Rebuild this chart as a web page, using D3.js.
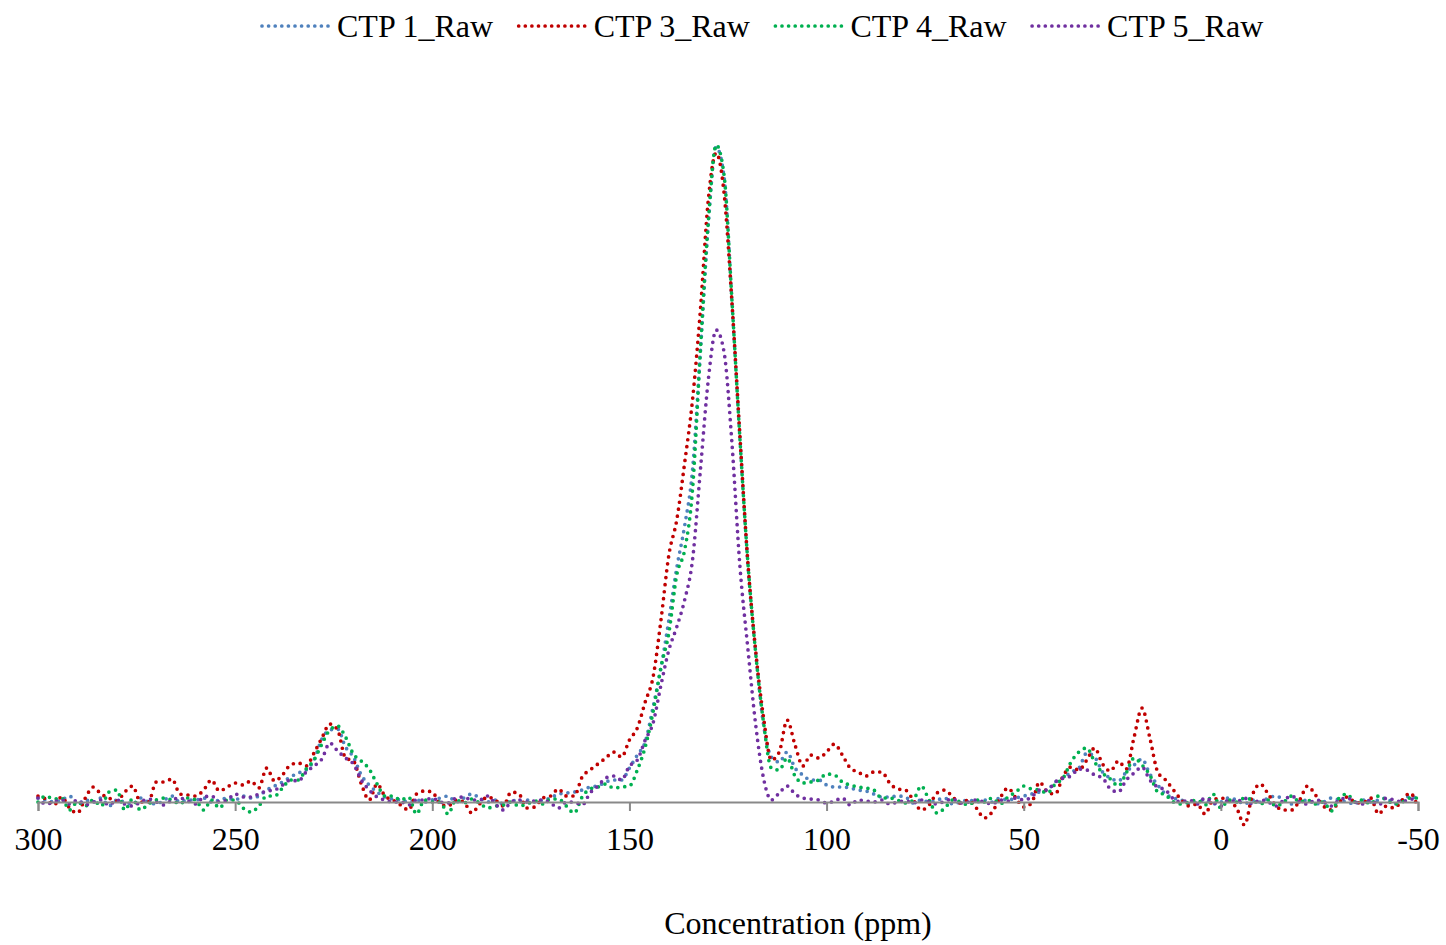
<!DOCTYPE html>
<html>
<head>
<meta charset="utf-8">
<script src="https://cdn.jsdelivr.net/npm/d3@7"></script>
<style>
  html, body { margin: 0; padding: 0; background: #ffffff; }
  svg { display: block; }
  text { font-family: "Liberation Serif", "Times New Roman", serif; fill: #000; }
</style>
</head>
<body>
<svg id="chart" width="1446" height="945"></svg>
<script>
// ---- data (chemical shift grid in ppm, intensities in arbitrary units) ----
const ppm = d3.range(300, -51, -2);

const seriesNames = ["CTP 1_Raw", "CTP 3_Raw", "CTP 4_Raw", "CTP 5_Raw"];
const seriesColors = ["#4F81BD", "#C00000", "#00B050", "#7030A0"];

const ctp1 = [4,2,0,2,6,-2,2,0,4,-4, 2,0,-2,4,0,-2,2,6,0,2, 2,4,0,2,4,2,6,4,6,
  12,16,20,25,29,32,42,63,72,73,55,45,27,17,10,5,3,2,0,2,0,2,4,6,0,4,8,4,0,2,-2,2,0,2,0,2,4,8,9,10,12,
  15,16,20,22,22,34,47,60,95,134,182,234,276,332,450,578,655,625,500,365,240,150,78,45,40,50,34,27,22,22,
  17,15,15,14,12,11,8,5,5,6,5,-1,2,0,2,4,-2,0,2,0,2,0,4,2,4,
  6,8,10,12,20,24,30,34,49,45,30,24,21,30,37,43,28,17,8,4,
  2,-2,0,2,-2,0,4,2,-2,2,0,4,6,2,-2,0,2,-2,0,4,2,0,-2,2,0,2,4,-2,2,6,2];

const ctp3 = [6,3,-3,5,-6,-11,4,15,8,4, 1,10,16,0,0,20,20,23,8,7, 6,12,22,11,15,19,17,21,14,
  34,21,27,37,39,36,49,64,78,72,44,41,18,2,18,6,2,-3,-8,8,11,10,-2,-4,2,0,-11,-2,5,2,-4,10,8,-6,-5,4,6,13,6,6,25,
  32,38,44,50,45,62,74,100,125,182,247,282,339,402,492,602,649,609,500,368,242,152,85,42,50,82,57,36,47,44,
  50,58,47,34,30,26,30,30,19,13,12,2,-8,-3,9,12,5,-1,2,-6,-16,-10,4,14,4,
  -5,-1,20,10,8,26,35,32,42,54,38,31,41,33,65,94,64,30,22,12,
  2,-4,-2,-12,2,4,1,-6,-23,7,18,8,-4,-8,-8,2,16,7,-4,-8,0,5,0,-1,4,-12,-4,-6,2,9,-6];

const ctp4 = [0,6,3,4,-8,0,-4,2,-4,10, 12,-8,3,-8,-2,2,4,2,-2,4, 2,-8,2,-6,2,2,-6,-10,-4,
  6,6,14,22,22,33,42,58,72,76,65,48,41,33,18,6,6,2,5,-12,2,0,0,-12,2,-1,3,-1,-6,-4,-3,0,-4,-2,1,-2,3,3,-4,-11,5,
  13,15,18,14,15,16,32,55,90,135,169,227,252,312,452,580,657,627,502,365,242,150,80,34,32,44,26,19,20,22,
  28,27,20,17,15,14,12,4,4,2,-1,2,16,2,-11,-6,2,0,-3,2,0,4,-2,5,10,
  16,13,12,9,18,24,40,50,54,40,29,23,16,29,44,37,27,10,7,0,
  -2,0,2,-3,8,-6,2,0,4,2,-2,2,-4,0,6,0,2,-2,0,-9,4,8,0,2,-2,6,2,-2,0,4,4];

const ctp5 = [4,-2,0,2,-2,2,-3,0,2,-3, 2,-2,-4,0,3,0,-3,2,4,1, -2,5,6,0,2,8,5,5,8,
  11,12,17,22,21,30,36,43,59,51,44,38,22,12,5,2,0,0,-3,2,2,4,0,-1,4,5,2,2,6,-2,-8,0,2,0,1,2,-1,-6,0,0,-3,
  9,16,24,26,22,36,42,62,79,117,152,175,202,242,332,422,472,450,359,237,155,78,24,2,9,16,8,4,3,2,
  -1,1,4,-3,2,1,0,2,-2,0,1,-1,2,0,-2,1,3,-1,0,2,0,-2,2,1,4,
  2,5,12,12,20,24,26,33,32,27,24,13,10,22,29,35,22,15,12,3,
  0,2,-2,4,0,-4,2,0,4,-2,2,0,-4,2,6,0,-2,2,0,-4,2,4,0,-2,2,-3,4,2,0,3,2];

const xTicks = [300, 250, 200, 150, 100, 50, 0, -50];
const xTitle = "Concentration (ppm)";

// ---- drawing ----
const svg = d3.select("#chart");
const x = d3.scaleLinear().domain([300, -50]).range([38, 1418]);
const y = d3.scaleLinear().domain([0, 660]).range([802, 142]);

const seriesData = [ctp1, ctp3, ctp4, ctp5];

const line = d3.line()
  .x((d, i) => x(ppm[i]))
  .y(d => y(d))
  .curve(d3.curveMonotoneX);

const gSeries = svg.append("g");
seriesData.forEach((vals, k) => {
  gSeries.append("path")
    .datum(vals)
    .attr("d", line)
    .attr("fill", "none")
    .attr("stroke", seriesColors[k])
    .attr("stroke-width", 3.7)
    .attr("stroke-linecap", "round")
    .attr("stroke-dasharray", "0 7");
});

// x axis
const axis = d3.axisBottom(x).tickValues(xTicks).tickSize(9).tickPadding(16)
  .tickFormat(d3.format("d"));
const gAxis = svg.append("g").attr("transform", `translate(0,${y(0)})`).call(axis);
gAxis.select(".domain").attr("stroke", "#898989").attr("stroke-width", 2);
gAxis.selectAll(".tick line").attr("stroke", "#898989").attr("stroke-width", 2);
gAxis.selectAll(".tick text")
  .attr("font-size", 32)
  .attr("font-family", "'Liberation Serif', 'Times New Roman', serif")
  .attr("fill", "#000")
  .text(d => d < 0 ? "-" + Math.abs(d) : String(d));

// axis title
svg.append("text")
  .attr("x", 798).attr("y", 934)
  .attr("text-anchor", "middle")
  .attr("font-size", 32)
  .text(xTitle);

// legend
const legend = svg.append("g");
seriesNames.forEach((name, k) => {
  const x0 = 262 + k * 256.7;
  legend.append("line")
    .attr("x1", x0).attr("x2", x0 + 66)
    .attr("y1", 26).attr("y2", 26)
    .attr("stroke", seriesColors[k])
    .attr("stroke-width", 3.7)
    .attr("stroke-linecap", "round")
    .attr("stroke-dasharray", "0 6.6");
  legend.append("text")
    .attr("x", x0 + 75).attr("y", 37)
    .attr("font-size", 32)
    .text(name);
});
</script>
</body>
</html>
